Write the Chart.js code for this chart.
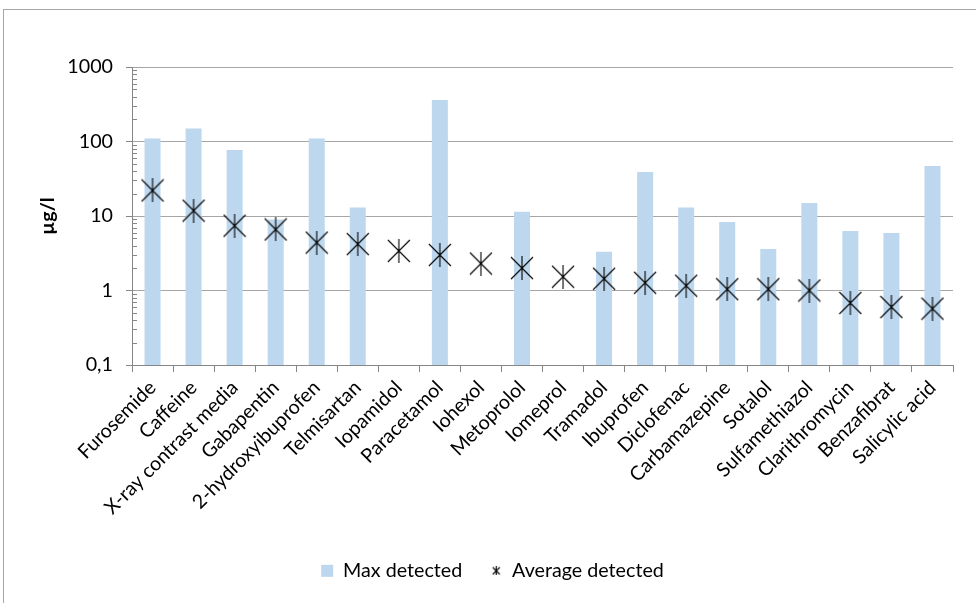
<!DOCTYPE html>
<html>
<head>
<meta charset="utf-8">
<script src="https://cdn.jsdelivr.net/npm/chart.js@4.4.1/dist/chart.umd.min.js"></script>
<style>
  body { margin: 0; background: #fff; }
  #wrap { width: 976px; height: 603px; }
</style>
</head>
<body>
<div id="wrap"><canvas id="chart" width="976" height="603"></canvas></div>
<script>
const categories = [
  "Furosemide", "Caffeine", "X-ray contrast media", "Gabapentin", "2-hydroxyibuprofen",
  "Telmisartan", "Iopamidol", "Paracetamol", "Iohexol", "Metoprolol",
  "Iomeprol", "Tramadol", "Ibuprofen", "Diclofenac", "Carbamazepine",
  "Sotalol", "Sulfamethiazol", "Clarithromycin", "Benzafibrat", "Salicylic acid"
];
const maxDetected = [110, 150, 77, 9, 110, 13, null, 360, null, 11.4, null, 3.3, 39, 13, 8.3, 3.6, 15, 6.3, 5.9, 47];
const averageDetected = [22, 11.8, 7.4, 6.6, 4.4, 4.2, 3.4, 3.0, 2.3, 2.0, 1.53, 1.44, 1.27, 1.16, 1.04, 1.04, 1.0, 0.68, 0.6, 0.57];
const yTicks = [0.1, 1, 10, 100, 1000];

const family = "Lato, 'Open Sans', sans-serif";
const fontSize = 19.7;
const axisGrey = "#868686";

// Excel style "star" marker: an X with a vertical bar
function starMarker(size, lw) {
  const c = document.createElement("canvas");
  c.width = size;
  c.height = size;
  const ctx = c.getContext("2d");
  ctx.strokeStyle = "#000";
  ctx.lineWidth = lw;
  ctx.beginPath();
  ctx.moveTo(1, 1);
  ctx.lineTo(size - 1, size - 1);
  ctx.moveTo(size - 1, 1);
  ctx.lineTo(1, size - 1);
  ctx.moveTo(size / 2, 0);
  ctx.lineTo(size / 2, size);
  ctx.stroke();
  return c;
}

const bigStar = starMarker(24, 1.1);
const smallStar = starMarker(9, 1.1);

const frameAndMinorTicks = {
  id: "frameAndMinorTicks",
  beforeDraw(chart) {
    const ctx = chart.ctx;
    ctx.save();
    ctx.strokeStyle = "#a6a6a6";
    ctx.lineWidth = 1;
    ctx.strokeRect(3.5, 9.5, 1200, 1200);
    ctx.restore();
  },
  afterDraw(chart) {
    const y = chart.scales.y;
    const ctx = chart.ctx;
    ctx.save();
    ctx.strokeStyle = axisGrey;
    ctx.lineWidth = 1;
    ctx.beginPath();
    for (let e = -1; e < 3; e++) {
      for (let m = 2; m < 10; m++) {
        const py = Math.round(y.getPixelForValue(m * Math.pow(10, e))) + 0.5;
        ctx.moveTo(y.right, py);
        ctx.lineTo(y.right + 5, py);
      }
    }
    ctx.stroke();
    ctx.restore();
  }
};

new Chart(document.getElementById("chart"), {
  type: "bar",
  data: {
    labels: categories,
    datasets: [
      {
        label: "Max detected",
        data: maxDetected,
        backgroundColor: "#bdd7ee",
        borderWidth: 0,
        barPercentage: 0.39,
        categoryPercentage: 1,
        order: 1
      },
      {
        type: "line",
        label: "Average detected",
        data: averageDetected,
        showLine: false,
        pointStyle: bigStar,
        pointRadius: 12,
        borderColor: "#000",
        backgroundColor: "#000",
        order: 0
      }
    ]
  },
  options: {
    responsive: false,
    animation: false,
    layout: { padding: { left: 32, right: 23, top: 67, bottom: 20 } },
    plugins: {
      tooltip: { enabled: false },
      legend: {
        position: "bottom",
        maxHeight: 50,
        labels: {
          usePointStyle: true,
          boxWidth: 12,
          boxHeight: 12,
          padding: 28,
          color: "#000",
          font: { family: family, size: fontSize },
          generateLabels(chart) {
            const items = Chart.defaults.plugins.legend.labels.generateLabels(chart);
            items.sort((a, b) => a.datasetIndex - b.datasetIndex);
            items.forEach((it) => {
              if (it.datasetIndex === 0) {
                it.pointStyle = "rect";
                it.lineWidth = 0;
              } else {
                it.pointStyle = smallStar;
              }
            });
            return items;
          }
        }
      }
    },
    scales: {
      x: {
        offset: true,
        ticks: {
          color: "#000",
          font: { family: family, size: fontSize },
          maxRotation: 45,
          minRotation: 45,
          autoSkip: false,
          padding: 4
        },
        grid: { drawOnChartArea: false, offset: true, tickLength: 7, color: axisGrey },
        border: { color: axisGrey },
        afterFit: (s) => { s.height = 168; }
      },
      y: {
        type: "logarithmic",
        min: 0.1,
        max: 1000,
        afterBuildTicks: (s) => { s.ticks = yTicks.map((v) => ({ value: v, major: true })); },
        afterFit: (s) => { s.width = 100; },
        ticks: {
          color: "#000",
          font: { family: family, size: fontSize },
          padding: 13,
          autoSkip: false,
          callback: (v) => String(v).replace(".", ",")
        },
        grid: { color: "#a6a6a6", tickLength: 6, tickColor: axisGrey },
        border: { color: axisGrey },
        title: {
          display: true,
          text: "µg/l",
          color: "#000",
          font: { family: family, size: fontSize, weight: "bold" }
        }
      }
    }
  },
  plugins: [frameAndMinorTicks]
});
</script>
</body>
</html>
